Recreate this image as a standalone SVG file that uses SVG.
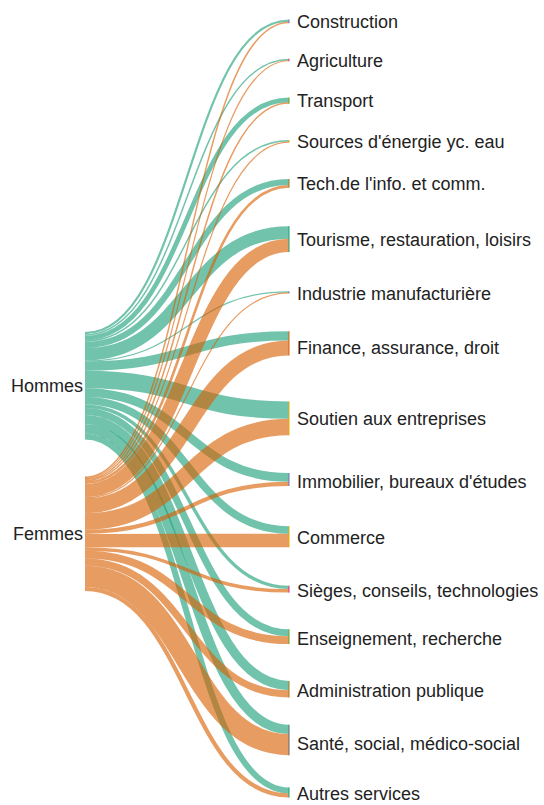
<svg xmlns="http://www.w3.org/2000/svg" width="544" height="805" viewBox="0 0 544 805">
<style>
  .lnk{fill:none;stroke-opacity:0.62}
  .h{stroke:#1b9e77}
  .f{stroke:#d95f02}
  .lbl{font-family:"Liberation Sans",Arial,sans-serif;font-size:18px;fill:#222}
  .end{text-anchor:end}
</style>
<rect width="544" height="805" fill="#fff"/>
<g id="links">
  <path class="lnk h" stroke-width="2.2" d="M85,333.1 C187,333.1 187,20.65 289,20.65"/>
  <path class="lnk h" stroke-width="1.5" d="M85,334.95 C187,334.95 187,59.5 289,59.5"/>
  <path class="lnk h" stroke-width="4.7" d="M85,338.05 C187,338.05 187,99.95 289,99.95"/>
  <path class="lnk h" stroke-width="1.5" d="M85,341.15 C187,341.15 187,140.85 289,140.85"/>
  <path class="lnk h" stroke-width="6.1" d="M85,344.95 C187,344.95 187,182 289,182"/>
  <path class="lnk h" stroke-width="12.5" d="M85,354.25 C187,354.25 187,232.45 289,232.45"/>
  <path class="lnk h" stroke-width="1.2" d="M85,361 C187,361 187,291.85 289,291.85"/>
  <path class="lnk h" stroke-width="9.3" d="M85,366.15 C187,366.15 187,335.9 289,335.9"/>
  <path class="lnk h" stroke-width="17.4" d="M85,379.5 C187,379.5 187,410.1 289,410.1"/>
  <path class="lnk h" stroke-width="8.7" d="M85,392.55 C187,392.55 187,477.4 289,477.4"/>
  <path class="lnk h" stroke-width="7.6" d="M85,400.7 C187,400.7 187,529.95 289,529.95"/>
  <path class="lnk h" stroke-width="3.4" d="M85,406.2 C187,406.2 187,587.4 289,587.4"/>
  <path class="lnk h" stroke-width="7" d="M85,411.4 C187,411.4 187,632.75 289,632.75"/>
  <path class="lnk h" stroke-width="9.3" d="M85,419.55 C187,419.55 187,685.55 289,685.55"/>
  <path class="lnk h" stroke-width="9.3" d="M85,428.85 C187,428.85 187,729.45 289,729.45"/>
  <path class="lnk h" stroke-width="6" d="M85,436.5 C187,436.5 187,790.4 289,790.4"/>

  <path class="lnk f" stroke-width="1.5" d="M85,477.2 C187,477.2 187,22.45 289,22.45"/>
  <path class="lnk f" stroke-width="1.2" d="M85,478.4 C187,478.4 187,60.75 289,60.75"/>
  <path class="lnk f" stroke-width="1.5" d="M85,479.6 C187,479.6 187,103 289,103"/>
  <path class="lnk f" stroke-width="1.2" d="M85,480.8 C187,480.8 187,142.1 289,142.1"/>
  <path class="lnk f" stroke-width="2.6" d="M85,482.6 C187,482.6 187,186.35 289,186.35"/>
  <path class="lnk f" stroke-width="13.4" d="M85,490.6 C187,490.6 187,245.4 289,245.4"/>
  <path class="lnk f" stroke-width="1.2" d="M85,497.8 C187,497.8 187,292.85 289,292.85"/>
  <path class="lnk f" stroke-width="14.9" d="M85,505.75 C187,505.75 187,348 289,348"/>
  <path class="lnk f" stroke-width="16.5" d="M85,521.45 C187,521.45 187,427.05 289,427.05"/>
  <path class="lnk f" stroke-width="4.2" d="M85,531.8 C187,531.8 187,483.85 289,483.85"/>
  <path class="lnk f" stroke-width="13.4" d="M85,540.6 C187,540.6 187,540.45 289,540.45"/>
  <path class="lnk f" stroke-width="3.5" d="M85,549.05 C187,549.05 187,590.85 289,590.85"/>
  <path class="lnk f" stroke-width="7.8" d="M85,554.7 C187,554.7 187,640.15 289,640.15"/>
  <path class="lnk f" stroke-width="7.2" d="M85,562.2 C187,562.2 187,693.8 289,693.8"/>
  <path class="lnk f" stroke-width="21.1" d="M85,576.35 C187,576.35 187,744.65 289,744.65"/>
  <path class="lnk f" stroke-width="4.2" d="M85,589 C187,589 187,795.5 289,795.5"/>
</g>
<g id="node-hommes"><text class="lbl end" x="83" y="392">Hommes</text></g>
<g id="node-femmes"><text class="lbl end" x="83" y="540">Femmes</text></g>
<g id="node-construction"><rect x="288.5" y="19.55" width="1" height="3.6" fill="#7570b3"/><text class="lbl" x="297" y="28">Construction</text></g>
<g id="node-agriculture"><rect x="288.5" y="58.75" width="1" height="2.5" fill="#e7298a"/><text class="lbl" x="297" y="66.5">Agriculture</text></g>
<g id="node-transport"><rect x="288.5" y="97.6" width="1" height="6.1" fill="#66a61e"/><text class="lbl" x="297" y="107">Transport</text></g>
<g id="node-sources"><rect x="288.5" y="140.1" width="1" height="2.5" fill="#e6ab02"/><text class="lbl" x="297" y="148">Sources d'énergie yc. eau</text></g>
<g id="node-tech"><rect x="288.5" y="178.95" width="1" height="8.7" fill="#a6761d"/><text class="lbl" x="297" y="189.5">Tech.de l'info. et comm.</text></g>
<g id="node-tourisme"><rect x="288.5" y="226.2" width="1" height="25.9" fill="#1b9e77"/><text class="lbl" x="297" y="246">Tourisme, restauration, loisirs</text></g>
<g id="node-industrie"><rect x="288.5" y="291.35" width="1" height="2" fill="#7570b3"/><text class="lbl" x="297" y="300">Industrie manufacturière</text></g>
<g id="node-finance"><rect x="288.5" y="331.25" width="1" height="24.2" fill="#d95f02"/><text class="lbl" x="297" y="353.5">Finance, assurance, droit</text></g>
<g id="node-soutien"><rect x="288.5" y="401.4" width="1" height="33.9" fill="#e6ab02"/><text class="lbl" x="297" y="425">Soutien aux entreprises</text></g>
<g id="node-immobilier"><rect x="288.5" y="473.05" width="1" height="12.9" fill="#7570b3"/><text class="lbl" x="297" y="488">Immobilier, bureaux d'études</text></g>
<g id="node-commerce"><rect x="288.5" y="526.15" width="1" height="21" fill="#e6ab02"/><text class="lbl" x="297" y="543.5">Commerce</text></g>
<g id="node-sieges"><rect x="288.5" y="585.7" width="1" height="6.9" fill="#e7298a"/><text class="lbl" x="297" y="597">Sièges, conseils, technologies</text></g>
<g id="node-enseignement"><rect x="288.5" y="629.25" width="1" height="14.8" fill="#66a61e"/><text class="lbl" x="297" y="645">Enseignement, recherche</text></g>
<g id="node-administration"><rect x="288.5" y="680.9" width="1" height="16.5" fill="#a6761d"/><text class="lbl" x="297" y="696.5">Administration publique</text></g>
<g id="node-sante"><rect x="288.5" y="724.8" width="1" height="30.4" fill="#666666"/><text class="lbl" x="297" y="750">Santé, social, médico-social</text></g>
<g id="node-autres"><rect x="288.5" y="787.4" width="1" height="10.2" fill="#1b9e77"/><text class="lbl" x="297" y="800">Autres services</text></g>
</svg>
